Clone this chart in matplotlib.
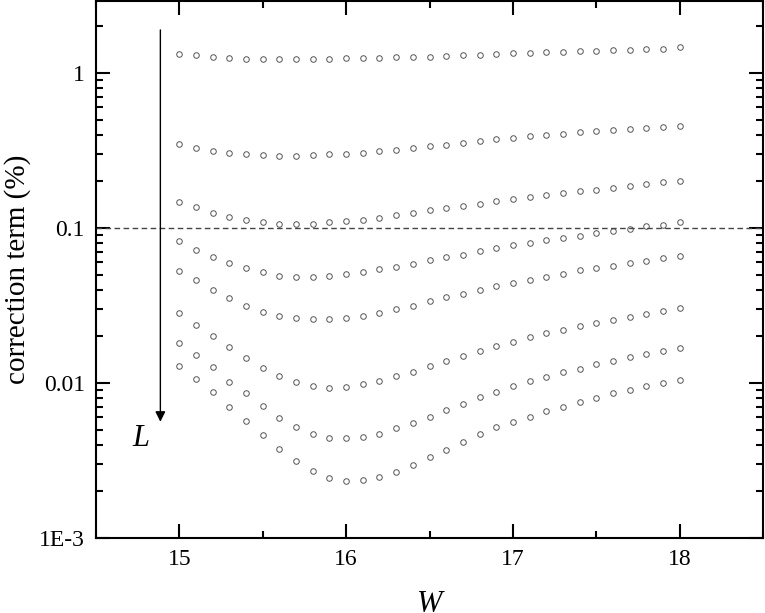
import matplotlib
matplotlib.use("Agg")
import matplotlib.pyplot as plt
from matplotlib.ticker import FixedLocator, NullFormatter, LogLocator

W = [15 + 0.1 * i for i in range(31)]
s1 = [1.33,1.31,1.28,1.26,1.24,1.24,1.23,1.23,1.24,1.24,1.25,1.26,1.26,1.27,1.27,1.28,1.29,1.30,1.31,1.33,1.34,1.35,1.36,1.37,1.38,1.39,1.40,1.41,1.43,1.44,1.48]
s2 = [0.348,0.328,0.315,0.305,0.299,0.296,0.294,0.292,0.296,0.299,0.302,0.306,0.314,0.320,0.328,0.337,0.345,0.353,0.362,0.373,0.383,0.391,0.398,0.406,0.414,0.421,0.427,0.433,0.440,0.446,0.457]
s3 = [0.148,0.136,0.125,0.118,0.112,0.109,0.107,0.107,0.106,0.109,0.111,0.113,0.117,0.122,0.126,0.131,0.135,0.139,0.144,0.149,0.154,0.158,0.163,0.168,0.173,0.177,0.181,0.187,0.192,0.197,0.202]
s4 = [0.0824,0.0724,0.0653,0.0592,0.0550,0.0518,0.0492,0.0483,0.0483,0.0488,0.0503,0.0518,0.0542,0.0563,0.0586,0.0622,0.0650,0.0673,0.0708,0.0740,0.0773,0.0800,0.0833,0.0866,0.0892,0.0929,0.0957,0.0986,0.1026,0.105,0.109]
s5 = [0.0531,0.0462,0.0398,0.0353,0.0314,0.0288,0.0272,0.0261,0.0259,0.0259,0.0264,0.0272,0.0283,0.0300,0.0315,0.0338,0.0357,0.0377,0.0398,0.0421,0.0442,0.0464,0.0485,0.0503,0.0534,0.0550,0.0571,0.0594,0.0612,0.0637,0.0660]
s6 = [0.0283,0.0238,0.0201,0.0170,0.0144,0.0125,0.0111,0.0102,0.00962,0.00933,0.00938,0.00986,0.0103,0.0111,0.0118,0.0129,0.0139,0.0150,0.0162,0.0174,0.0185,0.0197,0.0209,0.0220,0.0233,0.0244,0.0255,0.0268,0.0280,0.0292,0.0305]
s7 = [0.0181,0.0152,0.0126,0.0102,0.00861,0.00708,0.00597,0.00518,0.00469,0.00444,0.00440,0.00447,0.00467,0.00511,0.00552,0.00607,0.00670,0.00733,0.00809,0.00875,0.00953,0.0103,0.0110,0.0117,0.0124,0.0132,0.0139,0.0147,0.0154,0.0161,0.0168]
s8 = [0.0129,0.0106,0.00871,0.00700,0.00571,0.00462,0.00375,0.00313,0.00269,0.00244,0.00234,0.00237,0.00249,0.00268,0.00296,0.00335,0.00372,0.00416,0.00466,0.00518,0.00557,0.00607,0.00656,0.00700,0.00757,0.00800,0.00859,0.00902,0.00953,0.0100,0.0105]
series = [s1, s2, s3, s4, s5, s6, s7, s8]
xticks = [15, 16, 17, 18]
yticks = [1e-3, 1e-2, 1e-1, 1]
yticklabels = ["1E-3", "0.01", "0.1", "1"]

plt.rcParams['font.family'] = 'serif'
plt.rcParams['font.serif'] = ['Liberation Serif', 'DejaVu Serif']
plt.rcParams['mathtext.fontset'] = 'stix'
fig = plt.figure(figsize=(7.65, 6.13), dpi=100)
ax = fig.add_axes([96/765, 1 - 538/613, 667/765, 537/613])
for s in series:
    ax.plot(W, s, linestyle='none', marker='o', markersize=4, markerfacecolor='none',
            markeredgecolor='#555555', markeredgewidth=0.7)
ax.axhline(0.1, color='#444444', linestyle='--', linewidth=1, dashes=(4, 2.5))
ax.set_yscale('log')
ax.set_xlim(14.5, 18.5)
ax.set_ylim(1e-3, 2.92)
ax.set_xticks(xticks)
ax.set_xticklabels([str(t) for t in xticks])
ax.xaxis.set_minor_locator(FixedLocator([14.5, 15.5, 16.5, 17.5, 18.5]))
ax.yaxis.set_major_locator(FixedLocator(yticks))
ax.set_yticklabels(yticklabels)
ax.yaxis.set_minor_locator(LogLocator(base=10, subs=range(2, 10)))
ax.yaxis.set_minor_formatter(NullFormatter())
for sp in ax.spines.values():
    sp.set_linewidth(1.5)
ax.tick_params(which='both', direction='in', top=True, right=True, labelsize=17, width=1.5)
ax.tick_params(which='major', length=10, pad=8)
ax.tick_params(which='minor', length=5)
ax.set_xlabel('W', fontsize=22, style='italic', labelpad=14)
ax.set_ylabel('correction term (%)', fontsize=21, labelpad=6)
ax.annotate('', xy=(14.886, 0.0054), xytext=(14.886, 1.98),
            arrowprops=dict(arrowstyle='-|>', color='black', lw=1, mutation_scale=15))
ax.text(14.77, 0.0044, 'L', fontsize=22, style='italic', ha='center', va='center')
fig.savefig('out.png', dpi=100)
